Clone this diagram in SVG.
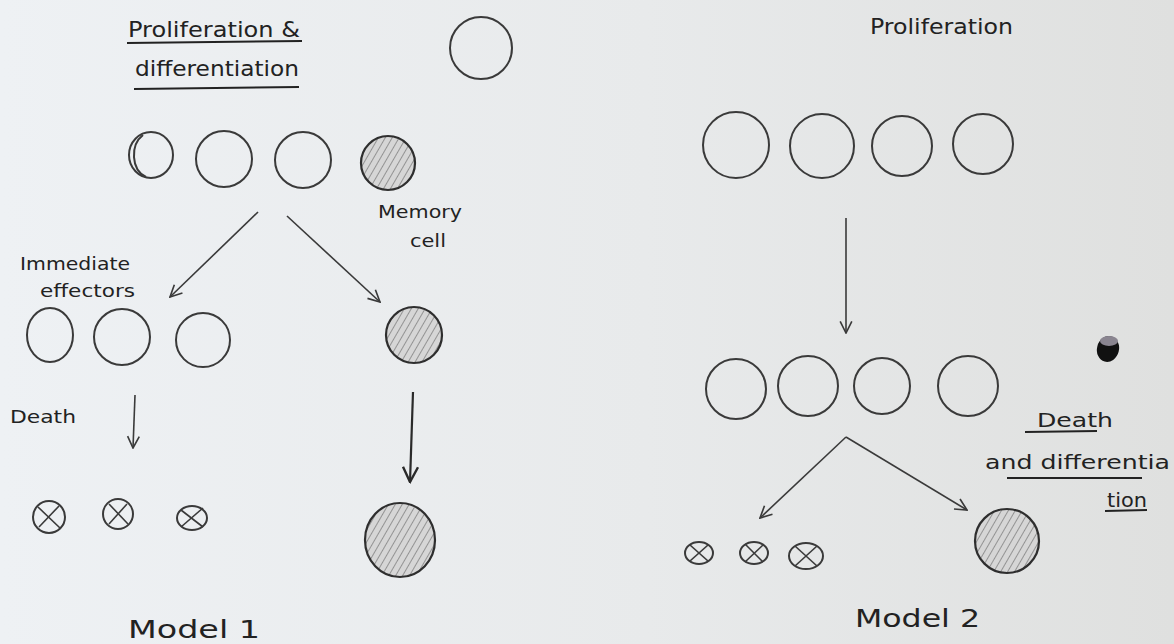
<svg xmlns="http://www.w3.org/2000/svg" width="1174" height="644" viewBox="0 0 1174 644">
<defs>
<linearGradient id="paper" x1="0" y1="0" x2="1" y2="0">
<stop offset="0" stop-color="#eef1f4"/>
<stop offset="0.55" stop-color="#e8eaeb"/>
<stop offset="1" stop-color="#dfe0df"/>
</linearGradient>
<pattern id="hatch" patternUnits="userSpaceOnUse" width="6" height="6" patternTransform="rotate(30)">
<rect width="6" height="6" fill="#d6d6d6"/>
<line x1="0" y1="0" x2="0" y2="6" stroke="#6e6e6e" stroke-width="1.3"/>
</pattern>
<marker id="ah" viewBox="0 0 12 12" refX="11" refY="6" markerWidth="14" markerHeight="14" markerUnits="userSpaceOnUse" orient="auto">
<path d="M1,1 L11,6 L1,11" fill="none" stroke="#3a3a3a" stroke-width="1.4"/>
</marker>
<marker id="ahb" viewBox="0 0 12 12" refX="11" refY="6" markerWidth="18" markerHeight="18" markerUnits="userSpaceOnUse" orient="auto">
<path d="M1,1 L11,6 L1,11" fill="none" stroke="#2a2a2a" stroke-width="1.6"/>
</marker>
</defs>
<style>
.c{fill:none;stroke:#3a3a3a;stroke-width:2}
.h{fill:url(#hatch);stroke:#2e2e2e;stroke-width:2.2}
.t{font-family:"DejaVu Sans","Liberation Sans",sans-serif;fill:#222}
.u{stroke:#222;stroke-width:2;fill:none}
.a{stroke:#3a3a3a;stroke-width:1.6;fill:none;marker-end:url(#ah)}
.ab{stroke:#2a2a2a;stroke-width:2.2;fill:none;marker-end:url(#ahb)}
.x{stroke:#3a3a3a;stroke-width:1.6}
</style>
<rect width="1174" height="644" fill="url(#paper)"/>

<g id="title-left">
<text class="t" x="128" y="37" font-size="22" textLength="172" lengthAdjust="spacingAndGlyphs">Proliferation &amp;</text>
<line class="u" x1="127" y1="43" x2="302" y2="41"/>
<text class="t" x="135" y="76" font-size="22" textLength="164" lengthAdjust="spacingAndGlyphs">differentiation</text>
<line class="u" x1="134" y1="89" x2="299" y2="87"/>
</g>

<g id="cell-top"><circle class="c" cx="481" cy="48" r="31"/></g>

<g id="m1-row1">
<ellipse class="c" cx="151" cy="155" rx="22" ry="23"/>
<path class="c" d="M143,135 C130,145 131,170 146,177" stroke-width="1.5"/>
<circle class="c" cx="224" cy="159" r="28"/>
<circle class="c" cx="303" cy="160" r="28"/>
<circle class="h" cx="388" cy="163" r="27"/>
</g>

<g id="memory-label">
<text class="t" x="378" y="218" font-size="18" textLength="84" lengthAdjust="spacingAndGlyphs">Memory</text>
<text class="t" x="410" y="247" font-size="18" textLength="36" lengthAdjust="spacingAndGlyphs">cell</text>
</g>

<g id="effectors-label">
<text class="t" x="20" y="270" font-size="17" textLength="110" lengthAdjust="spacingAndGlyphs">Immediate</text>
<text class="t" x="40" y="297" font-size="17" textLength="95" lengthAdjust="spacingAndGlyphs">effectors</text>
</g>

<g id="m1-row2">
<ellipse class="c" cx="50" cy="335" rx="23" ry="27"/>
<circle class="c" cx="122" cy="337" r="28"/>
<circle class="c" cx="203" cy="340" r="27"/>
<circle class="h" cx="414" cy="335" r="28"/>
</g>

<g id="death-label">
<text class="t" x="10" y="423" font-size="18" textLength="66" lengthAdjust="spacingAndGlyphs">Death</text>
</g>

<g id="m1-dead">
<circle class="c" cx="49" cy="517" r="16"/>
<line class="x" x1="38" y1="507" x2="60" y2="528"/><line class="x" x1="59" y1="506" x2="39" y2="527"/>
<circle class="c" cx="118" cy="514" r="15"/>
<line class="x" x1="109" y1="504" x2="128" y2="524"/><line class="x" x1="127" y1="504" x2="109" y2="524"/>
<ellipse class="c" cx="192" cy="518" rx="15" ry="12"/>
<line class="x" x1="181" y1="510" x2="203" y2="527"/><line class="x" x1="203" y1="508" x2="181" y2="527"/>
</g>

<g id="m1-memory-final"><ellipse class="h" cx="400" cy="540" rx="35" ry="37"/></g>

<g id="model1-label">
<text class="t" x="128" y="638" font-size="24" textLength="132" lengthAdjust="spacingAndGlyphs">Model  1</text>
</g>

<g id="title-right">
<text class="t" x="870" y="34" font-size="21" textLength="143" lengthAdjust="spacingAndGlyphs">Proliferation</text>
</g>

<g id="m2-row1">
<circle class="c" cx="736" cy="145" r="33"/>
<circle class="c" cx="822" cy="146" r="32"/>
<circle class="c" cx="902" cy="146" r="30"/>
<circle class="c" cx="983" cy="144" r="30"/>
</g>

<g id="m2-row2">
<circle class="c" cx="736" cy="389" r="30"/>
<circle class="c" cx="808" cy="386" r="30"/>
<circle class="c" cx="882" cy="386" r="28"/>
<circle class="c" cx="968" cy="386" r="30"/>
</g>

<g id="death-diff-label">
<text class="t" x="1037" y="427" font-size="19" textLength="76" lengthAdjust="spacingAndGlyphs">Death</text>
<line class="u" x1="1025" y1="432" x2="1097" y2="431"/>
<text class="t" x="985" y="469" font-size="19" textLength="185" lengthAdjust="spacingAndGlyphs">and differentia</text>
<line class="u" x1="1007" y1="478" x2="1142" y2="478"/>
<text class="t" x="1107" y="507" font-size="19" textLength="40" lengthAdjust="spacingAndGlyphs">tion</text>
<line class="u" x1="1105" y1="511" x2="1147" y2="510"/>
</g>

<g id="m2-dead">
<ellipse class="c" cx="699" cy="553" rx="14" ry="11"/>
<line class="x" x1="690" y1="545" x2="708" y2="561"/><line class="x" x1="708" y1="545" x2="690" y2="561"/>
<ellipse class="c" cx="754" cy="553" rx="14" ry="11"/>
<line class="x" x1="745" y1="544" x2="763" y2="562"/><line class="x" x1="763" y1="545" x2="745" y2="562"/>
<ellipse class="c" cx="806" cy="556" rx="17" ry="13"/>
<line class="x" x1="795" y1="546" x2="817" y2="566"/><line class="x" x1="817" y1="546" x2="795" y2="566"/>
</g>

<g id="m2-memory-final"><circle class="h" cx="1007" cy="541" r="32"/></g>

<g id="model2-label">
<text class="t" x="855" y="627" font-size="24" textLength="125" lengthAdjust="spacingAndGlyphs">Model  2</text>
</g>

<g id="hole"><ellipse cx="1108" cy="349" rx="11" ry="13" fill="#111" transform="rotate(15 1108 349)"/><ellipse cx="1109" cy="341" rx="9" ry="5" fill="#8a8590"/></g>

<g id="connectors">
<path class="a" d="M258,212 L170,297"/>
<path class="a" d="M287,216 L380,302"/>
<path class="a" d="M135,395 L133,448"/>
<path class="ab" d="M413,392 L410,482"/>
<path class="a" d="M846,218 L846,333"/>
<path class="a" d="M846,437 L760,518"/>
<path class="a" d="M846,437 L967,510"/>
</g>
</svg>
